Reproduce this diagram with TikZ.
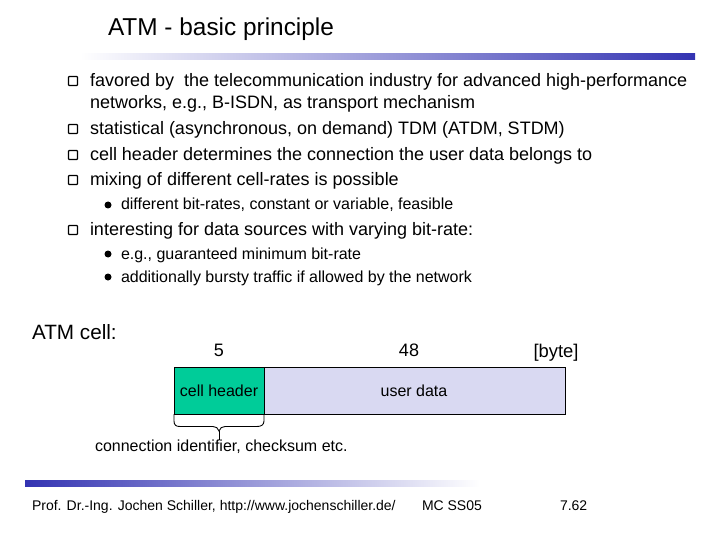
\documentclass[tikz,border=0pt]{standalone}
\usepackage{fontspec}
\setmainfont{Liberation Sans}
\definecolor{barblue}{HTML}{3333B2}
\definecolor{hdrgreen}{HTML}{00CC99}
\definecolor{datalav}{HTML}{D9D9F2}
\tikzset{
  txt/.style={anchor=base west,inner sep=0pt,outer sep=0pt},
  ctr/.style={anchor=base,inner sep=0pt,outer sep=0pt},
  cell/.style={draw=black,line width=0.9pt,minimum height=47pt,inner sep=0pt,outer sep=0pt,anchor=north west},
  qbox/.style={draw=black,line width=1.2pt,fill=white,minimum size=9pt,inner sep=0pt,rounded corners=0.8pt},
  dotb/.style={fill=black,circle,minimum size=7pt,inner sep=0pt},
  large/.style={font=\fontsize{18}{20}\selectfont},
  small/.style={font=\fontsize{16}{18}\selectfont},
  foot/.style={font=\fontsize{14}{16}\selectfont}
}
\begin{document}
\begin{tikzpicture}[x=1pt,y=-1pt]
\useasboundingbox (0,0) rectangle (720,540);
\fill[left color=white,right color=barblue] (80,54) rectangle (695,60);
\fill[left color=barblue,right color=white] (25,480) rectangle (480,486);
\node[txt,font=\fontsize{24.4}{26}\selectfont] (title) at (108,36) {ATM - basic principle};
\node[qbox] (q1) at (73,81) {};
\node[qbox] (q2) at (73,129) {};
\node[qbox] (q3) at (73,155) {};
\node[qbox] (q4) at (73,180) {};
\node[qbox] (q5) at (73,230) {};
\node[txt,large] (t1) at (90,87) {favored by\ \ the telecommunication industry for advanced high-performance};
\node[txt,large] (t1b) at (90,109) {networks, e.g., B-ISDN, as transport mechanism};
\node[txt,large] (t2) at (90,135) {statistical (asynchronous, on demand) TDM (ATDM, STDM)};
\node[txt,large] (t3) at (90,161) {cell header determines the connection the user data belongs to};
\node[txt,large] (t4) at (90,186) {mixing of different cell-rates is possible};
\node[txt,large] (t5) at (90,236) {interesting for data sources with varying bit-rate:};
\node[dotb] (d1) at (108,205) {};
\node[dotb] (d2) at (108,254) {};
\node[dotb] (d3) at (108,277) {};
\node[txt,small] (s1) at (121,210) {different bit-rates, constant or variable, feasible};
\node[txt,small] (s2) at (121,259) {e.g., guaranteed minimum bit-rate};
\node[txt,small] (s3) at (121,282) {additionally bursty traffic if allowed by the network};
\node[txt,font=\fontsize{20.7}{23}\selectfont] (lab) at (32,339) {ATM cell:};
\node[ctr,large] (n5) at (219,356) {5};
\node[ctr,large] (n48) at (409,356) {48};
\node[ctr,font=\fontsize{18.4}{21}\selectfont] (nb) at (556,357) {[byte]};
\node[cell,fill=datalav,minimum width=301pt] (data) at (264,367) {};
\node[cell,fill=hdrgreen,minimum width=90pt] (hdr) at (174,367) {};
\node[ctr,small] (hl) at (219,396) {cell header};
\node[ctr,small] (dl) at (414,396) {user data};
\coordinate (tip) at (219,440);
\coordinate (notch) at (219,431);
\draw[line width=0.9pt] (hdr.south west) -- (174,421) .. controls (174,425) and (176,426.5) .. (180,426.5) -- (213,426.5) .. controls (216,426.5) and (218,428) .. (notch) .. controls (220,428) and (222,426.5) .. (225,426.5) -- (257,426.5) .. controls (261,426.5) and (264,425) .. (264,421) -- (hdr.south east);
\draw[line width=0.9pt] (notch) -- (tip);
\node[txt,small] (conn) at (95,451) {connection identifier, checksum etc.};
\node[txt,foot] (f1) at (32,510) {Prof. Dr.-Ing. Jochen Schiller, http://www.jochenschiller.de/};
\node[txt,foot] (f2) at (422,510) {MC SS05};
\node[txt,foot] (f3) at (560,510) {7.62};
\end{tikzpicture}
\end{document}
